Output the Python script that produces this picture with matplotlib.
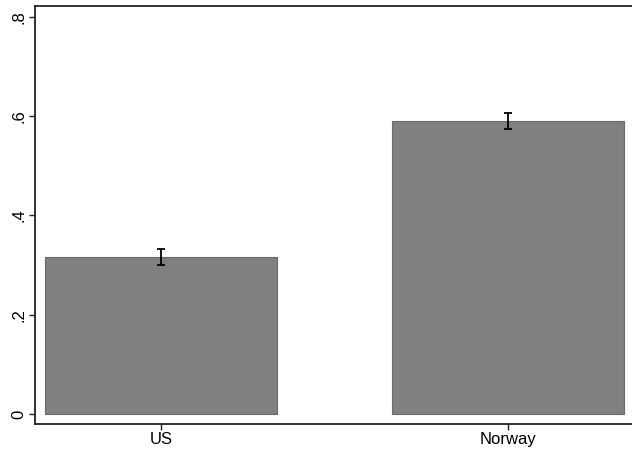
import matplotlib
matplotlib.use("Agg")
import matplotlib.pyplot as plt

countries = ["US", "Norway"]
means = [0.316, 0.590]
errors = [0.016, 0.016]
yticks = [0, 0.2, 0.4, 0.6, 0.8]
ytick_labels = ["0", ".2", ".4", ".6", ".8"]

plt.rcParams["font.family"] = ["Liberation Sans", "DejaVu Sans"]

fig = plt.figure(figsize=(6.32, 4.5), dpi=100)
ax = fig.add_axes([0.0554, 0.0578, 0.9446, 0.9289])

x = list(range(len(countries)))
ax.bar(x, means, width=0.67, color="#808080", edgecolor="#6a6a6a", linewidth=0.8)
ax.errorbar(x, means, yerr=errors, fmt="none", ecolor="black",
            elinewidth=1.3, capsize=3.0, capthick=1.3)

ax.set_xlim(-0.363, 1.357)
ax.set_ylim(-0.020, 0.822)
ax.set_xticks(x)
ax.set_xticklabels(countries, fontsize=12)
ax.set_yticks(yticks)
ax.set_yticklabels(ytick_labels, fontsize=12, rotation=90, va="center")

for side in ["left", "bottom", "top"]:
    ax.spines[side].set_linewidth(1.3)
    ax.spines[side].set_color("#222222")
ax.spines["right"].set_visible(False)
ax.tick_params(axis="both", length=4, width=1.0, color="#222222", pad=2)

fig.savefig("out.png", dpi=100)
